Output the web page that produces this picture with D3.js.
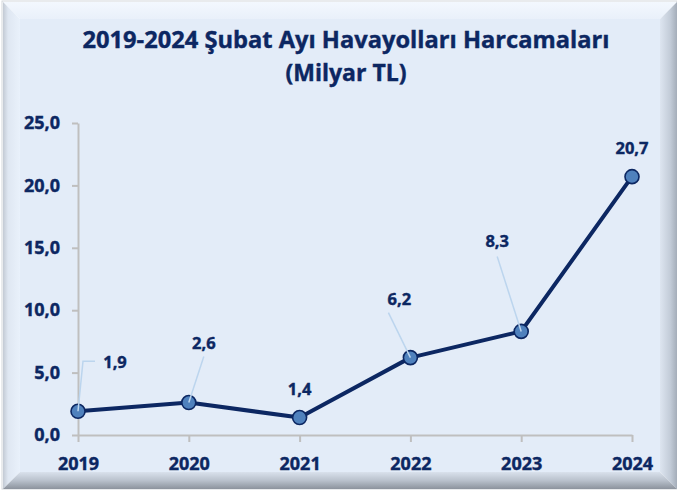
<!DOCTYPE html>
<html lang="tr">
<head>
<meta charset="UTF-8">
<title>2019-2024 Şubat Ayı Havayolları Harcamaları</title>
<script src="https://d3js.org/d3.v7.min.js"></script>
<style>
  body { margin: 0; background: #fff; }
  svg text { font-family: "Open Sans", Lato, sans-serif; font-weight: bold; fill: #0c2762; stroke: #0c2762; stroke-width: 0.4px; }
</style>
</head>
<body>
<svg width="677" height="490"></svg>
<script>
// data
const years = ["2019", "2020", "2021", "2022", "2023", "2024"];
const values = [1.9, 2.6, 1.4, 6.2, 8.3, 20.7];
const yTicks = [0, 5, 10, 15, 20, 25];
const titleLines = ["2019-2024 Şubat Ayı Havayolları Harcamaları", "(Milyar TL)"];

const svg = d3.select("svg");
const navy = "#0c2762";

// beveled frame
const defs = svg.append("defs");
function grad(id, x2, y2, stops) {
  const g = defs.append("linearGradient").attr("id", id)
    .attr("x1", 0).attr("y1", 0).attr("x2", x2).attr("y2", y2);
  stops.forEach(s => g.append("stop").attr("offset", s[0]).attr("stop-color", s[1]));
}
grad("gLeft", 1, 0, [[0, "#c3cad4"], [0.3, "#dfe7f2"], [1, "#e9f1fb"]]);
grad("gTop", 0, 1, [[0, "#f3f8fe"], [1, "#e9f0fa"]]);
grad("gRight", 1, 0, [[0, "#dde5f0"], [0.6, "#c3ccd8"], [1, "#a4adb9"]]);
grad("gBottom", 0, 1, [[0, "#d9e1ec"], [0.5, "#b9c1cc"], [1, "#8c939d"]]);

const f = { x0: 3, y0: 2, x1: 677, y1: 489, b: 17 };
svg.append("rect").attr("x", f.x0 - 1).attr("y", f.y0 - 1)
  .attr("width", f.x1 - f.x0 + 1).attr("height", f.y1 - f.y0 + 1)
  .attr("fill", "none").attr("stroke", "#d4d7db");
const ix0 = f.x0 + f.b, iy0 = f.y0 + f.b, ix1 = f.x1 - f.b, iy1 = f.y1 - f.b;
const poly = (pts, fill) => svg.append("polygon").attr("points", pts.map(p => p.join(",")).join(" ")).attr("fill", fill);
poly([[f.x0, f.y0], [f.x1, f.y0], [ix1, iy0], [ix0, iy0]], "url(#gTop)");
poly([[f.x0, f.y0], [ix0, iy0], [ix0, iy1], [f.x0, f.y1]], "url(#gLeft)");
poly([[f.x1, f.y0], [f.x1, f.y1], [ix1, iy1], [ix1, iy0]], "url(#gRight)");
poly([[f.x0, f.y1], [ix0, iy1], [ix1, iy1], [f.x1, f.y1]], "url(#gBottom)");
svg.append("rect").attr("x", ix0).attr("y", iy0)
  .attr("width", ix1 - ix0).attr("height", iy1 - iy0).attr("fill", "#e3ecf8");

// title
const titleWidths = [527, 121];
svg.selectAll(".title").data(titleLines).enter().append("text")
  .attr("class", "title")
  .attr("x", 346)
  .attr("y", (d, i) => 48 + i * 33)
  .attr("text-anchor", "middle")
  .attr("font-size", 23)
  .attr("textLength", (d, i) => titleWidths[i])
  .attr("lengthAdjust", "spacingAndGlyphs")
  .text(d => d);

// scales
const x = d3.scalePoint().domain(years).range([78, 632]);
const y = d3.scaleLinear().domain([0, 25]).range([435, 123]);
const fmt = v => d3.format(".1f")(v).replace(".", ",");

// axes
const yAxis = svg.append("g").attr("transform", "translate(78,0)")
  .call(d3.axisLeft(y).tickValues(yTicks).tickFormat(fmt).tickSize(6).tickSizeOuter(0).tickPadding(12));
const xAxis = svg.append("g").attr("transform", "translate(0,435)")
  .call(d3.axisBottom(x).tickSize(7).tickSizeOuter(0).tickPadding(15));
[yAxis, xAxis].forEach(a => {
  a.select(".domain").attr("stroke", "#bfbfbf").attr("stroke-width", 2);
  a.selectAll(".tick line").attr("stroke", "#bfbfbf").attr("stroke-width", 2);
  a.selectAll("text").attr("font-size", 18).attr("font-family", null).attr("fill", navy);
});

// series
const pts = years.map((yr, i) => ({ year: yr, value: values[i] }));
svg.append("path").datum(pts)
  .attr("fill", "none").attr("stroke", navy).attr("stroke-width", 4)
  .attr("stroke-linejoin", "round")
  .attr("d", d3.line().x(d => x(d.year)).y(d => y(d.value)));

svg.selectAll(".pt").data(pts).enter().append("circle")
  .attr("class", "pt")
  .attr("cx", d => x(d.year)).attr("cy", d => y(d.value))
  .attr("r", 7).attr("fill", "#4f81bd").attr("stroke", navy).attr("stroke-width", 1.6);

// label placement (offsets from each point) and leader lines
const labelOffset = [[37, -43], [15, -54], [0, -23], [-11, -53], [-24, -84], [0, -23]];
const leaderPath = [
  [[5, -50], [17, -50]],
  [[15, -46]],
  null,
  [[-22, -45]],
  [[-24, -75]],
  null
];
pts.forEach((d, i) => {
  const px = x(d.year), py = y(d.value);
  if (leaderPath[i]) {
    const p = [[px, py]].concat(leaderPath[i].map(o => [px + o[0], py + o[1]]));
    svg.append("path").attr("d", d3.line()(p))
      .attr("fill", "none").attr("stroke", "#bcd5ee").attr("stroke-width", 1.5);
  }
  svg.append("text")
    .attr("x", px + labelOffset[i][0]).attr("y", py + labelOffset[i][1])
    .attr("text-anchor", "middle").attr("font-size", 16.5)
    .text(fmt(d.value));
});
</script>
</body>
</html>
